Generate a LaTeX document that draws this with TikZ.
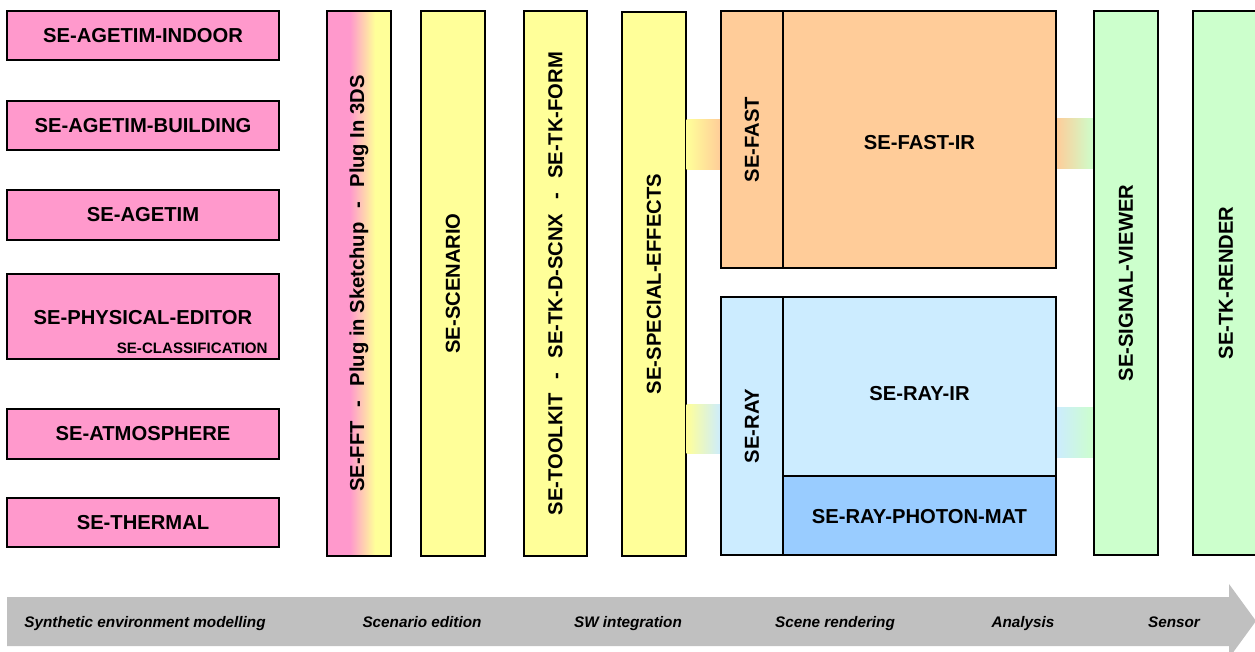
\documentclass[tikz,border=0pt]{standalone}
\usepackage{fontspec}
\setmainfont{Liberation Sans}
\usetikzlibrary{fit}

\definecolor{pinkbox}{HTML}{FF99CC}
\definecolor{yellowbox}{HTML}{FFFF99}
\definecolor{orangebox}{HTML}{FFCC99}
\definecolor{bluebox}{HTML}{CCECFF}
\definecolor{darkbluebox}{HTML}{99CCFF}
\definecolor{greenbox}{HTML}{CCFFCC}
\definecolor{bandgray}{HTML}{C0C0C0}

\newcommand{\dashsep}{\hspace{8pt}-\hspace{8pt}}

\tikzset{
  module/.style={draw=black, line width=0.8pt, inner sep=0pt},
  hlabel/.style={inner sep=0pt, font=\fontsize{11.5}{13}\selectfont\bfseries},
  vlabel/.style={hlabel, rotate=90},
  phase/.style={inner sep=0pt, anchor=base, font=\fontsize{8.7}{10}\selectfont\bfseries\itshape}
}

\begin{document}
\begin{tikzpicture}[x=0.02cm, y=-0.02cm]
    \useasboundingbox (0,0) rectangle (1255,652);

    % Process band
    \fill[bandgray] (7,597) -- (1229,597) -- (1229,584) -- (1256,621)
        -- (1229,658) -- (1229,646) -- (7,646) -- cycle;
    \node[phase] (p1) at (145,627.5) {Synthetic environment modelling};
    \node[phase] (p2) at (422,627.5) {Scenario edition};
    \node[phase] (p3) at (628,627.5) {SW integration};
    \node[phase] (p4) at (835,627.5) {Scene rendering};
    \node[phase] (p5) at (1023,627.5) {Analysis};
    \node[phase] (p6) at (1174,627.5) {Sensor};

    % Environment modelling
    \node[module, fill=pinkbox, fit={(7,11) (279,60)}] (indoor) {};
    \node[hlabel] (indoorlbl) at (indoor.center) {SE-AGETIM-INDOOR};
    \node[module, fill=pinkbox, fit={(7,101) (279,150)}] (building) {};
    \node[hlabel] (buildinglbl) at (building.center) {SE-AGETIM-BUILDING};
    \node[module, fill=pinkbox, fit={(7,190) (279,240)}] (agetim) {};
    \node[hlabel] (agetimlbl) at (agetim.center) {SE-AGETIM};
    \node[module, fill=pinkbox, fit={(7,274) (279,359)}] (physical) {};
    \node[hlabel] (physicallbl) at ([yshift=-0.5pt]physical.center) {SE-PHYSICAL-EDITOR};
    \node[inner sep=0pt, anchor=east, font=\fontsize{8.6}{10}\selectfont\bfseries]
        (classif) at (268,348) {SE-CLASSIFICATION};
    \node[module, fill=pinkbox, fit={(7,409) (279,459)}] (atmo) {};
    \node[hlabel] (atmolbl) at (atmo.center) {SE-ATMOSPHERE};
    \node[module, fill=pinkbox, fit={(7,498) (279,547)}] (thermal) {};
    \node[hlabel] (thermallbl) at (thermal.center) {SE-THERMAL};

    % Plug-ins column, pink to yellow
    \fill[pinkbox] (327,11) rectangle (350,556);
    \shade[left color=pinkbox, right color=yellowbox] (350,11) rectangle (375,556);
    \fill[yellowbox] (375,11) rectangle (391,556);
    \node[module, fit={(327,11) (391,556)}] (fft) {};
    \node[vlabel] (fftlbl) at (fft.center)
        {SE-FFT\dashsep Plug in Sketchup\dashsep Plug In 3DS};

    % Scenario and integration
    \node[module, fill=yellowbox, fit={(421,11) (485,556)}] (scenario) {};
    \node[vlabel] (scenariolbl) at (scenario.center) {SE-SCENARIO};
    \node[module, fill=yellowbox, fit={(524,11) (587,556)}] (toolkit) {};
    \node[vlabel] (toolkitlbl) at (toolkit.center)
        {SE-TOOLKIT\dashsep SE-TK-D-SCNX\dashsep SE-TK-FORM};
    \node[module, fill=yellowbox, fit={(622,12) (686,556)}] (special) {};
    \node[vlabel] (speciallbl) at (special.center) {SE-SPECIAL-EFFECTS};

    % Links between stages
    \shade[left color=yellowbox, right color=orangebox]
        (special.east |- 0,120) rectangle (721,170);
    \shade[left color=yellowbox, right color=bluebox]
        (special.east |- 0,404) rectangle (721,453);
    \shade[left color=orangebox, right color=greenbox]
        (1056,119) rectangle (1094,169);
    \shade[left color=bluebox, right color=greenbox]
        (1056,407) rectangle (1094,457);

    % Scene rendering
    \node[module, fill=orangebox, fit={(721,11) (783,268)}] (fast) {};
    \node[vlabel] (fastlbl) at (fast.center) {SE-FAST};
    \node[module, fill=orangebox, fit={(783,11) (1056,268)}] (fastir) {};
    \node[hlabel] (fastirlbl) at ([yshift=-1.5pt]fastir.center) {SE-FAST-IR};

    \node[module, fill=bluebox, fit={(721,297) (783,555)}] (ray) {};
    \node[vlabel] (raylbl) at (ray.center) {SE-RAY};
    \node[module, fill=bluebox, fit={(783,297) (1056,476)}] (rayir) {};
    \node[hlabel] (rayirlbl) at ([yshift=-4pt]rayir.center) {SE-RAY-IR};
    \node[module, fill=darkbluebox, fit={(783,476) (1056,555)}] (photon) {};
    \node[hlabel] (photonlbl) at ([yshift=-0.5pt]photon.center) {SE-RAY-PHOTON-MAT};

    % Analysis and sensor
    \node[module, fill=greenbox, fit={(1094,11) (1158,555)}] (viewer) {};
    \node[vlabel] (viewerlbl) at (viewer.center) {SE-SIGNAL-VIEWER};
    \node[module, fill=greenbox, fit={(1193,11) (1259,555)}] (render) {};
    \node[vlabel] (renderlbl) at (render.center) {SE-TK-RENDER};
\end{tikzpicture}
\end{document}
